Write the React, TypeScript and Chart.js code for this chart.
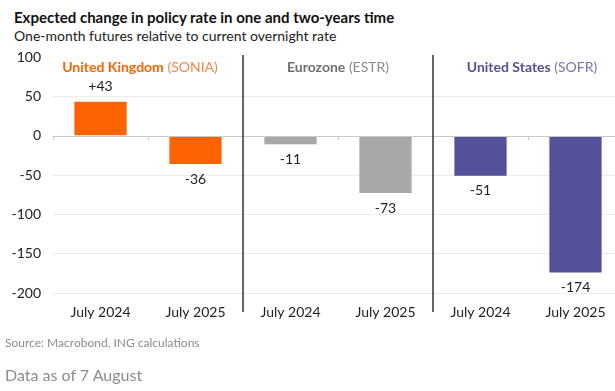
import React, { useEffect, useRef } from "react";
import { Chart, registerables } from "chart.js";

Chart.register(...registerables);

const categories = ["July 2024", "July 2025", "July 2024", "July 2025", "July 2024", "July 2025"];
const values = [43, -36, -11, -73, -51, -174];
const valueLabels = ["+43", "-36", "-11", "-73", "-51", "-174"];
const barColors = ["#FF6200", "#FF6200", "#A8A8A8", "#A8A8A8", "#525199", "#525199"];
const regionBold = ["United Kingdom", "Eurozone", "United States"];
const regionCode = [" (SONIA)", " (ESTR)", " (SOFR)"];
const regionBoldColors = ["#FF6200", "#6E6E6E", "#525199"];
const regionCodeColors = ["#F5894A", "#8A8A8A", "#7574B0"];
const regionShift = [-8, 0, 4];
const yTicks = [100, 50, 0, -50, -100, -150, -200];

const FONT = "Lato, 'Noto Sans', sans-serif";

const overlay = {
  id: "overlay",
  afterDraw(chart: any) {
    const ctx = chart.ctx;
    const x = chart.scales.x;
    const y = chart.scales.y;
    const area = chart.chartArea;
    const y0 = y.getPixelForValue(0);
    const step = x.getPixelForValue(1) - x.getPixelForValue(0);
    ctx.save();
    // zero line
    ctx.strokeStyle = "#C8C8C8";
    ctx.lineWidth = 1;
    ctx.beginPath();
    ctx.moveTo(area.left, Math.round(y0) + 0.5);
    ctx.lineTo(area.right, Math.round(y0) + 0.5);
    ctx.stroke();
    // small ticks at boundaries within groups
    [0, 1, 3, 5].forEach((i) => {
      const bx = Math.round(x.getPixelForValue(i) - step / 2) + 0.5;
      ctx.beginPath();
      ctx.moveTo(bx, Math.round(y0));
      ctx.lineTo(bx, Math.round(y0) + 4);
      ctx.stroke();
    });
    // separators
    ctx.strokeStyle = "#333333";
    ctx.lineWidth = 1.5;
    [2, 4].forEach((i) => {
      const bx = x.getPixelForValue(i) - step / 2;
      ctx.beginPath();
      ctx.moveTo(bx, 55);
      ctx.lineTo(bx, 312);
      ctx.stroke();
    });
    // value labels
    ctx.fillStyle = "#222222";
    ctx.font = `14px ${FONT}`;
    ctx.textAlign = "center";
    ctx.textBaseline = "middle";
    values.forEach((v, i) => {
      const px = x.getPixelForValue(i);
      const py = y.getPixelForValue(v);
      ctx.fillText(valueLabels[i], px, v >= 0 ? py - 15 : py + 15);
    });
    // region labels
    ctx.textAlign = "left";
    regionBold.forEach((b, g) => {
      const cx = (x.getPixelForValue(2 * g) + x.getPixelForValue(2 * g + 1)) / 2 + regionShift[g];
      ctx.font = `bold 14px ${FONT}`;
      const wb = ctx.measureText(b).width;
      ctx.font = `14px ${FONT}`;
      const wc = ctx.measureText(regionCode[g]).width;
      const sx = cx - (wb + wc) / 2;
      ctx.font = `bold 14px ${FONT}`;
      ctx.fillStyle = regionBoldColors[g];
      ctx.fillText(b, sx, 67);
      ctx.font = `14px ${FONT}`;
      ctx.fillStyle = regionCodeColors[g];
      ctx.fillText(regionCode[g], sx + wb, 67);
    });
    ctx.restore();
  },
};

export default function App() {
  const ref = useRef<HTMLCanvasElement>(null);
  useEffect(() => {
    document.body.style.margin = "0";
    document.body.style.overflow = "hidden";
    const chart = new Chart(ref.current!, {
      type: "bar",
      data: {
        labels: categories,
        datasets: [
          {
            data: values,
            backgroundColor: barColors,
            borderWidth: 0,
            categoryPercentage: 1,
            barPercentage: 0.55,
          },
        ],
      },
      options: {
        animation: false,
        responsive: true,
        maintainAspectRatio: false,
        layout: { padding: { left: 0, top: 57, right: 17, bottom: 0 } },
        plugins: { legend: { display: false }, tooltip: { enabled: false } },
        scales: {
          x: {
            grid: { display: false, drawTicks: false },
            border: { display: false },
            ticks: { color: "#222222", font: { family: FONT, size: 14 }, padding: 11, maxRotation: 0, autoSkip: false },
            afterFit: (s: any) => {
              s.height = 98;
            },
          },
          y: {
            min: -200,
            max: 100,
            afterBuildTicks: (s: any) => {
              s.ticks = yTicks.map((v) => ({ value: v }));
            },
            grid: {
              drawTicks: false,
              color: (c: any) => (c.tick && (c.tick.value === 100 || c.tick.value === 0) ? "rgba(0,0,0,0)" : "#EBEBEB"),
              lineWidth: 1,
            },
            border: { display: false },
            ticks: { color: "#222222", font: { family: FONT, size: 14 }, padding: 12 },
            afterFit: (s: any) => {
              s.width = 53;
            },
          },
        },
      },
      plugins: [overlay],
    });
    return () => chart.destroy();
  }, []);

  return (
    <div style={{ position: "fixed", left: 0, top: 0, width: 615, height: 391, overflow: "hidden", fontFamily: FONT, background: "#fff" }}>
      <div style={{ position: "absolute", left: 14, top: 8, fontSize: 15, fontWeight: "bold", color: "#111", whiteSpace: "nowrap" }}>
        Expected change in policy rate in one and two-years time
      </div>
      <div style={{ position: "absolute", left: 14, top: 27, fontSize: 14, color: "#222", whiteSpace: "nowrap" }}>
        One-month futures relative to current overnight rate
      </div>
      <div style={{ position: "absolute", left: 0, top: 0, width: 640, height: 391 }}>
        <canvas ref={ref} />
      </div>
      <div style={{ position: "absolute", left: 5, top: 335, fontSize: 12, color: "#8C8C8C", whiteSpace: "nowrap" }}>
        Source: Macrobond, ING calculations
      </div>
      <div style={{ position: "absolute", left: 5, top: 365, fontSize: 16, color: "#8C8C8C", whiteSpace: "nowrap" }}>
        Data as of 7 August
      </div>
    </div>
  );
}
